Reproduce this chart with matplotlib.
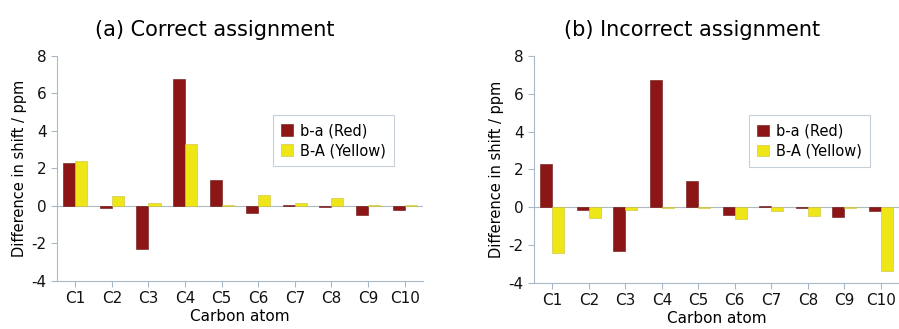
import numpy as np
import matplotlib
matplotlib.use('Agg')
import matplotlib.pyplot as plt

labels = ['C1', 'C2', 'C3', 'C4', 'C5', 'C6', 'C7', 'C8', 'C9', 'C10']
red_vals = [2.3, -0.12, -2.3, 6.75, 1.38, -0.4, 0.05, -0.05, -0.5, -0.2]
yellow_correct = [2.4, 0.55, 0.15, 3.33, 0.05, 0.6, 0.18, 0.45, 0.03, 0.05]
yellow_incorrect = [-2.4, -0.55, -0.15, -0.05, -0.05, -0.6, -0.18, -0.45, -0.03, -3.35]
titles = ['(a) Correct assignment', '(b) Incorrect assignment']

RED = '#8c1616'
YELLOW = '#eee617'
SPINE = '#a8b8c8'

plt.rcParams['font.family'] = ['DejaVu Sans']
plt.rcParams['axes.unicode_minus'] = False

fig = plt.figure(figsize=(8.99, 3.29), dpi=100)
axes = [fig.add_axes([0.0634, 0.146, 0.407, 0.684]),
        fig.add_axes([0.594, 0.140, 0.406, 0.690])]

x = np.arange(1, len(labels) + 1)
w = 0.33
for ax, yv, title in zip(axes, [yellow_correct, yellow_incorrect], titles):
    ax.bar(x - w, red_vals, width=w, align='edge', color=RED, edgecolor='#6a1010',
           linewidth=0.4, label='b-a (Red)', zorder=3)
    ax.bar(x, yv, width=w, align='edge', color=YELLOW, edgecolor='#c8c040',
           linewidth=0.4, label='B-A (Yellow)', zorder=3)
    ax.axhline(0, color='#b0b8c0', linewidth=0.8, zorder=2)
    ax.set_xlim(0.5, 10.5)
    ax.set_ylim(-4, 8)
    ax.set_yticks([-4, -2, 0, 2, 4, 6, 8])
    ax.set_xticks(x)
    ax.set_xticklabels(labels)
    for s in ['top', 'right']:
        ax.spines[s].set_visible(False)
    for s in ['left', 'bottom']:
        ax.spines[s].set_color(SPINE)
        ax.spines[s].set_linewidth(0.8)
    ax.tick_params(axis='both', colors=SPINE, labelcolor='#111111', labelsize=11,
                   length=4, direction='out')
    ax.set_xlabel('Carbon atom', fontsize=11, labelpad=2)
    ax.set_ylabel('Difference in shift / ppm', fontsize=10.5, labelpad=3)
    ax.set_title(title, fontsize=15, pad=14, x=0.432)
    leg = ax.legend(loc='upper left', bbox_to_anchor=(0.57, 0.77), fontsize=10.5,
                    frameon=True, fancybox=False, handlelength=0.8, handleheight=0.8,
                    handletextpad=0.5, borderpad=0.55, labelspacing=0.35)
    leg.get_frame().set_edgecolor('#b8c4d0')
    leg.get_frame().set_linewidth(0.8)

fig.savefig('out.png', dpi=100)
